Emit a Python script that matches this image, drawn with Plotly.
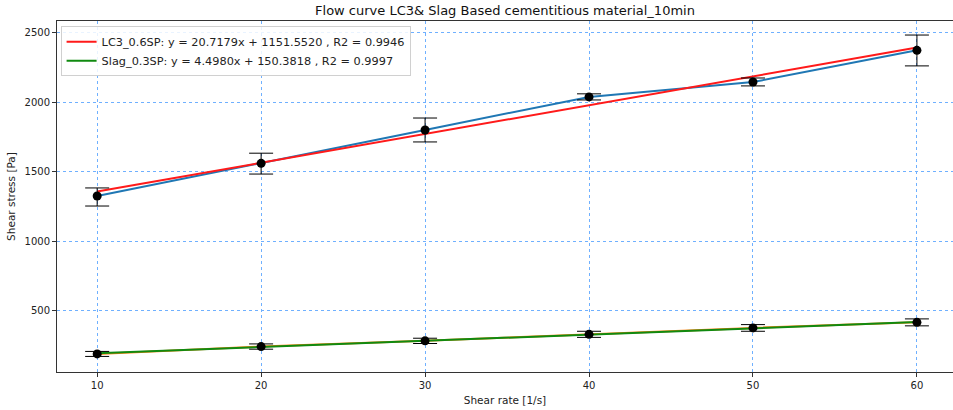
import plotly.graph_objects as go

shear_rate = [10, 20, 30, 40, 50, 60]
lc3_mean = [1327, 1562, 1802, 2040, 2147, 2375]
lc3_err_plus = [58, 73, 86, 22, 29, 110]
lc3_err_minus = [72, 77, 86, 22, 28, 112]
slag_mean = [191, 244, 285, 332, 378, 418]
slag_err = [18, 19, 19, 22, 24, 25]

lc3_slope, lc3_icpt = 20.7179, 1151.5520
slag_slope, slag_icpt = 4.4980, 150.3818
lc3_label = "LC3_0.6SP: y = 20.7179x + 1151.5520 , R2 = 0.9946"
slag_label = "Slag_0.3SP: y = 4.4980x + 150.3818 , R2 = 0.9997"
title = "Flow curve LC3& Slag Based cementitious material_10min"

lc3_fit = [lc3_slope * x + lc3_icpt for x in shear_rate]
slag_fit = [slag_slope * x + slag_icpt for x in shear_rate]

fig = go.Figure()
fig.add_trace(go.Scatter(x=shear_rate, y=lc3_mean, mode="lines",
                         line=dict(color="#1f77b4", width=2), showlegend=False))
fig.add_trace(go.Scatter(x=shear_rate, y=slag_mean, mode="lines",
                         line=dict(color="#ff7f0e", width=2), showlegend=False))
fig.add_trace(go.Scatter(x=shear_rate, y=lc3_fit, mode="lines", name=lc3_label,
                         line=dict(color="#ff1a1a", width=2)))
fig.add_trace(go.Scatter(x=shear_rate, y=slag_fit, mode="lines", name=slag_label,
                         line=dict(color="#108a10", width=2)))
fig.add_trace(go.Scatter(x=shear_rate, y=lc3_mean, mode="markers", showlegend=False,
                         marker=dict(color="black", size=9),
                         error_y=dict(type="data", symmetric=False, array=lc3_err_plus,
                                      arrayminus=lc3_err_minus, color="black",
                                      thickness=1, width=12)))
fig.add_trace(go.Scatter(x=shear_rate, y=slag_mean, mode="markers", showlegend=False,
                         marker=dict(color="black", size=9),
                         error_y=dict(type="data", array=slag_err, color="black",
                                      thickness=1, width=12)))

fig.update_layout(
    width=953, height=410,
    margin=dict(l=57, r=0, t=21, b=38),
    plot_bgcolor="white", paper_bgcolor="white",
    font=dict(family="DejaVu Sans", size=10, color="#222"),
    title=dict(text=title, x=0.5, xref="paper", xanchor="center", y=0.975,
               yanchor="middle", font=dict(size=13, color="#111")),
    legend=dict(x=0.004, y=0.985, xanchor="left", yanchor="top",
                bgcolor="rgba(255,255,255,0.85)", bordercolor="#d0d0d0", borderwidth=1,
                font=dict(size=11.3), tracegroupgap=0),
)
fig.update_xaxes(range=[7.55, 62.2], tickvals=shear_rate, ticks="outside", ticklen=4,
                 tickcolor="#333", showline=True, linecolor="#333", linewidth=1,
                 mirror=True, showgrid=True, gridcolor="#6fb0ff", griddash="dot",
                 gridwidth=1, zeroline=False,
                 title=dict(text="Shear rate [1/s]", standoff=6, font=dict(size=10.5)))
fig.update_yaxes(range=[61, 2586], tickvals=[500, 1000, 1500, 2000, 2500], ticks="outside",
                 ticklen=4, tickcolor="#333", showline=True, linecolor="#333", linewidth=1,
                 mirror=False, showgrid=True, gridcolor="#6fb0ff", griddash="dot",
                 gridwidth=1, zeroline=False,
                 title=dict(text="Shear stress [Pa]", standoff=6, font=dict(size=10.5)))

fig.write_html("out.html")
